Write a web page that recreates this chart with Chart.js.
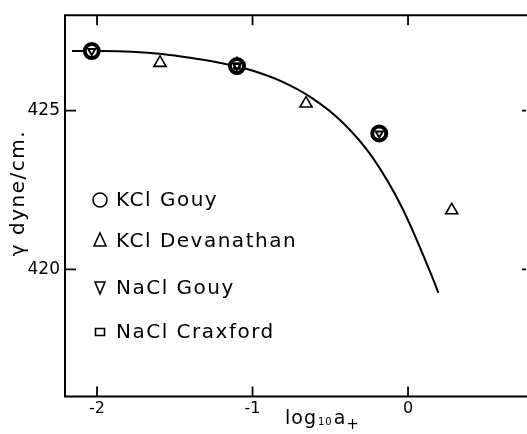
<!DOCTYPE html>
<html>
<head>
<meta charset="utf-8">
<script src="https://cdn.jsdelivr.net/npm/chart.js@4/dist/chart.umd.min.js"></script>
<style>
  html, body { margin: 0; padding: 0; background: #fff; overflow: hidden; }
  #wrap { width: 527px; height: 434px; position: relative; }
</style>
</head>
<body>
<div id="wrap"><canvas id="c" width="527" height="434"></canvas></div>
<script>
// Surface tension of mercury vs. log activity of the cation
const xTicks = [-2, -1, 0];
const yTicks = [420, 425];

// Smooth theoretical curve
const curveX = [-2.161, -1.968, -1.775, -1.582, -1.389, -1.196, -1.003, -0.810, -0.617, -0.424, -0.232, -0.039, 0.154, 0.195];
const curveY = [426.87, 426.87, 426.85, 426.78, 426.65, 426.49, 426.26, 425.91, 425.39, 424.64, 423.55, 421.95, 419.78, 419.26];

// KCl, Gouy
const kclGouyX = [-2.034, -1.10, -0.185];
const kclGouyY = [426.87, 426.40, 424.28];

// KCl, Devanathan
const kclDevX = [-1.595, -1.10, -0.656, 0.281];
const kclDevY = [426.50, 426.45, 425.22, 421.86];

// NaCl, Gouy
const naclGouyX = [-2.034, -1.10, -0.185];
const naclGouyY = [426.87, 426.40, 424.28];

// NaCl, Craxford
const naclCraxX = [-1.10];
const naclCraxY = [426.40];

const legendLabels = ['KCl Gouy', 'KCl Devanathan', 'NaCl Gouy', 'NaCl Craxford'];
const xTitle = ['log', '10', 'a', '+'];
const yTitle = 'γ dyne/cm.';

const pts = (xs, ys) => xs.map((x, i) => ({ x, y: ys[i] }));
const INK = '#000';
const FONT = '"DejaVu Sans", sans-serif';

function drawMarker(ctx, kind, x, y) {
  ctx.save();
  ctx.strokeStyle = INK;
  ctx.fillStyle = '#fff';
  ctx.lineWidth = 1.6;
  ctx.beginPath();
  if (kind === 0) {
    ctx.arc(x, y, 7, 0, Math.PI * 2);
  } else if (kind === 1) {
    ctx.moveTo(x, y - 7); ctx.lineTo(x + 6, y + 6); ctx.lineTo(x - 6, y + 6); ctx.closePath();
  } else if (kind === 2) {
    ctx.moveTo(x - 5, y - 6); ctx.lineTo(x + 5, y - 6); ctx.lineTo(x, y + 6); ctx.closePath();
  } else {
    ctx.rect(x - 4.5, y - 3.5, 9, 7);
  }
  ctx.fill();
  ctx.stroke();
  ctx.restore();
}

const framePlugin = {
  id: 'frame',
  afterDraw(chart) {
    const { ctx, chartArea: a, scales } = chart;
    const xs = scales.x, ys = scales.y;
    ctx.save();
    ctx.strokeStyle = INK;
    ctx.lineWidth = 2;
    // box: left, top and bottom sides
    ctx.beginPath();
    ctx.moveTo(a.right + 2, a.top); ctx.lineTo(a.left, a.top);
    ctx.lineTo(a.left, a.bottom); ctx.lineTo(a.right + 2, a.bottom);
    ctx.stroke();
    // inward ticks
    ctx.lineWidth = 1.8;
    ctx.beginPath();
    xTicks.forEach(v => {
      const px = xs.getPixelForValue(v);
      ctx.moveTo(px, a.top); ctx.lineTo(px, a.top + 10);
      ctx.moveTo(px, a.bottom); ctx.lineTo(px, a.bottom - 10);
    });
    yTicks.forEach(v => {
      const py = ys.getPixelForValue(v);
      ctx.moveTo(a.left, py); ctx.lineTo(a.left + 11, py);
      ctx.moveTo(a.right - 5, py); ctx.lineTo(a.right - 1, py);
    });
    ctx.stroke();

    ctx.fillStyle = INK;
    // y axis title
    ctx.save();
    ctx.translate(19, 193);
    ctx.rotate(-Math.PI / 2);
    ctx.font = '20px ' + FONT;
    ctx.letterSpacing = '1.5px';
    ctx.textAlign = 'center';
    ctx.textBaseline = 'middle';
    ctx.fillText(yTitle, 0, 0);
    ctx.restore();

    // x axis title with subscripts
    ctx.save();
    ctx.textBaseline = 'alphabetic';
    ctx.textAlign = 'left';
    ctx.letterSpacing = '1px';
    let tx = 285;
    const base = 424;
    ctx.font = '19px ' + FONT;
    ctx.fillText(xTitle[0], tx, base); tx += ctx.measureText(xTitle[0]).width + 1;
    ctx.font = '10px ' + FONT;
    ctx.fillText(xTitle[1], tx, base + 1); tx += ctx.measureText(xTitle[1]).width + 1;
    ctx.font = '19px ' + FONT;
    ctx.fillText(xTitle[2], tx, base); tx += ctx.measureText(xTitle[2]).width;
    ctx.font = '15px ' + FONT;
    ctx.fillText(xTitle[3], tx, base + 5);
    ctx.restore();

    // legend
    const ly = [200, 241, 288, 332];
    ctx.save();
    ctx.font = '20px ' + FONT;
    ctx.letterSpacing = '1.5px';
    ctx.textBaseline = 'middle';
    ctx.textAlign = 'left';
    legendLabels.forEach((t, i) => {
      drawMarker(ctx, i, 100, ly[i] - (i === 1 ? 1 : 0));
      ctx.fillStyle = INK;
      ctx.fillText(t, 116, ly[i] + 1);
    });
    ctx.restore();
    ctx.restore();
  }
};

new Chart(document.getElementById('c'), {
  type: 'scatter',
  data: {
    datasets: [
      {
        label: 'curve',
        data: pts(curveX, curveY),
        showLine: true,
        borderColor: INK,
        borderWidth: 2,
        pointRadius: 0,
        cubicInterpolationMode: 'monotone',
        order: 5
      },
      {
        label: legendLabels[1],
        data: pts(kclDevX, kclDevY),
        pointStyle: 'triangle',
        pointRadius: 7,
        borderColor: INK,
        backgroundColor: '#fff',
        borderWidth: 1.6,
        order: 4
      },
      {
        label: legendLabels[0],
        data: pts(kclGouyX, kclGouyY),
        pointStyle: 'circle',
        pointRadius: 7,
        borderColor: INK,
        backgroundColor: '#fff',
        borderWidth: 4,
        order: 3
      },
      {
        label: legendLabels[2],
        data: pts(naclGouyX, naclGouyY),
        pointStyle: 'triangle',
        rotation: 180,
        pointRadius: 4,
        borderColor: INK,
        backgroundColor: '#fff',
        borderWidth: 2,
        order: 2
      },
      {
        label: legendLabels[3],
        data: pts(naclCraxX, naclCraxY),
        pointStyle: 'rect',
        pointRadius: 4,
        borderColor: INK,
        backgroundColor: 'rgba(0,0,0,0)',
        borderWidth: 2,
        order: 1
      }
    ]
  },
  options: {
    responsive: false,
    animation: false,
    events: [],
    layout: { autoPadding: false, padding: { top: 14, left: 0, right: 0, bottom: 0 } },
    plugins: { legend: { display: false }, tooltip: { enabled: false } },
    scales: {
      x: {
        type: 'linear',
        min: -2.206,
        max: 0.765,
        afterBuildTicks: s => { s.ticks = xTicks.map(v => ({ value: v })); },
        afterFit: s => { s.height = 37.5; },
        grid: { display: false, drawTicks: false },
        border: { display: false },
        ticks: {
          color: INK,
          font: { family: FONT, size: 16 },
          padding: 3,
          callback: v => String(v).replace('−', '-')
        }
      },
      y: {
        type: 'linear',
        min: 416,
        max: 428,
        afterBuildTicks: s => { s.ticks = yTicks.map(v => ({ value: v })); },
        afterFit: s => { s.width = 65; },
        grid: { display: false, drawTicks: false },
        border: { display: false },
        ticks: {
          color: INK,
          font: { family: FONT, size: 17 },
          padding: 5
        }
      }
    }
  },
  plugins: [framePlugin]
});
</script>
</body>
</html>
